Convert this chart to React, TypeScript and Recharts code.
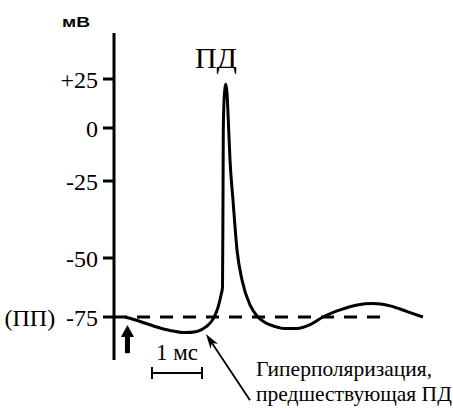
import { LineChart, Line, XAxis, YAxis, ReferenceLine, Customized } from 'recharts'

// time after stimulus, ms
const timeMs = [
  0, 0.31, 0.61, 0.92, 1.22, 1.47, 1.65, 1.8, 1.9, 1.96, 1.99,
  2.0, 2.006, 2.027, 2.055, 2.082, 2.108, 2.143, 2.204, 2.286, 2.388,
  2.551, 2.694, 2.857, 3.061, 3.27, 3.51, 3.78, 4.04, 4.39, 4.74,
  5.06, 5.41, 5.76, 6.08,
]
// membrane potential, mV
const potentialMv = [
  -75, -76.9, -79.0, -80.7, -81.6, -81.1, -79.2, -75.8, -70.8, -65.7, -62.3,
  -31.2, -0.9, 16.8, 22.4, 17.9, 4.1, -15.1, -31.2, -47.4, -59.3,
  -69.9, -74.6, -77.3, -79.0, -79.9, -79.9, -78.2, -75, -72.0, -69.9,
  -69.3, -70.3, -72.7, -75,
]
const yTicks = [-75, -50, -25, 0, 25]
const restingMv = -75

// the printed mV axis is not evenly spaced: share of the axis height at each value
const axisValues = [-93.2, -75, -50, -25, 0, 25, 48.5]
const axisShare = [0, 0.1315, 0.3119, 0.5474, 0.7095, 0.8593, 1]

const data = timeMs.map((t, i) => ({ t, v: potentialMv[i] }))

const SERIF = '"Liberation Serif", "Times New Roman", serif'
const SANS = '"Liberation Sans", Arial, sans-serif'

// piecewise linear scale with the d3 methods recharts needs
function unevenScale(): any {
  let dom = [axisValues[0], axisValues[axisValues.length - 1]]
  let rng = [0, 1]
  const last = axisValues.length - 1
  const share = (v: number) => {
    let i = 1
    while (i < last && v > axisValues[i]) i++
    const v0 = axisValues[i - 1], v1 = axisValues[i]
    return axisShare[i - 1] + ((v - v0) / (v1 - v0)) * (axisShare[i] - axisShare[i - 1])
  }
  const unshare = (f: number) => {
    let i = 1
    while (i < last && f > axisShare[i]) i++
    const f0 = axisShare[i - 1], f1 = axisShare[i]
    return axisValues[i - 1] + ((f - f0) / (f1 - f0)) * (axisValues[i] - axisValues[i - 1])
  }
  const s: any = (v: number) => rng[0] + share(v) * (rng[1] - rng[0])
  s.domain = (d?: number[]) => (d ? ((dom = d), s) : dom)
  s.range = (r?: number[]) => (r ? ((rng = r), s) : rng)
  s.copy = () => unevenScale().domain(dom).range(rng)
  s.ticks = () => yTicks
  s.invert = (px: number) => unshare((px - rng[0]) / (rng[1] - rng[0]))
  s.clamp = () => s
  s.nice = () => s
  return s
}

function formatTick(v: number) {
  if (v === 25) return '+25'
  if (v === restingMv) return '(ПП)\u2009 -75'
  return String(v)
}

function YTick(props: any) {
  const { x, y, payload } = props
  return (
    <text x={x} y={y} dy="0.355em" textAnchor="end" fontFamily={SERIF} fontSize={24} fill="#000">
      {formatTick(payload.value)}
    </text>
  )
}

// thick upward arrow marking the stimulus
function StimulusArrow(props: any) {
  const { x2, y1, y2 } = props
  const head = 12
  return (
    <g>
      <rect x={x2 - 2.5} y={y2 + head - 1} width={5} height={y1 - y2 - head + 1} fill="#000" />
      <polygon points={`${x2},${y2} ${x2 - 6.5},${y2 + head} ${x2 + 6.5},${y2 + head}`} fill="#000" />
    </g>
  )
}

// thin arrow with caption at its tail
function NoteArrow(props: any) {
  const { x1, y1, x2, y2 } = props
  const a = Math.atan2(y2 - y1, x2 - x1)
  const c = Math.cos(a), s = Math.sin(a)
  const len = 15, half = 4.5
  const bx = x2 - len * c, by = y2 - len * s
  const nx = x2 - len * 0.7 * c, ny = y2 - len * 0.7 * s
  return (
    <g>
      <line x1={x1} y1={y1} x2={nx} y2={ny} stroke="#000" strokeWidth={1.8} />
      <polygon
        points={`${x2},${y2} ${bx - s * half},${by + c * half} ${nx},${ny} ${bx + s * half},${by - c * half}`}
        fill="#000"
      />
      <text x={x1 + 6} y={y1 - 24} fontFamily={SERIF} fontSize={21.5} fill="#000">Гиперполяризация,</text>
      <text x={x1 + 6} y={y1 + 1} fontFamily={SERIF} fontSize={21.5} fill="#000">предшествующая ПД</text>
    </g>
  )
}

// 1 ms scale bar
function ScaleBar(props: any) {
  const { x1, y1, x2 } = props
  return (
    <g stroke="#000" strokeWidth={2}>
      <line x1={x1} y1={y1} x2={x2} y2={y1} />
      <line x1={x1} y1={y1 - 6} x2={x1} y2={y1 + 6} />
      <line x1={x2} y1={y1 - 6} x2={x2} y2={y1 + 6} />
      <text x={(x1 + x2) / 2} y={y1 - 13} textAnchor="middle" stroke="none" fill="#000" fontFamily={SERIF} fontSize={23}>1 мс</text>
    </g>
  )
}

function Titles() {
  return (
    <g>
      <text x={62} y={27} textLength={28} lengthAdjust="spacingAndGlyphs" fontFamily={SANS} fontWeight="bold" fontSize={15} fill="#000">мВ</text>
      <text x={216} y={68} textAnchor="middle" fontFamily={SERIF} fontSize={30} fill="#000">ПД</text>
    </g>
  )
}

export default function App() {
  return (
    <div style={{ position: 'absolute', left: 0, top: 0, background: '#fff' }}>
      <LineChart width={453} height={409} data={data} margin={{ top: 33, right: 10, bottom: 49, left: 0 }}>
        <XAxis dataKey="t" type="number" domain={[-0.2245, 6.49]} allowDataOverflow hide />
        <YAxis
          type="number"
          scale={unevenScale()}
          domain={[axisValues[0], axisValues[axisValues.length - 1]]}
          allowDataOverflow
          ticks={yTicks}
          interval={0}
          width={114}
          axisLine={{ stroke: '#000', strokeWidth: 3 }}
          tickLine={{ stroke: '#000', strokeWidth: 3 }}
          tickSize={11}
          tickMargin={5}
          tick={YTick}
        />
        <ReferenceLine
          segment={[{ x: -0.2245, y: restingMv }, { x: 5.27, y: restingMv }]}
          stroke="#000"
          strokeWidth={3}
          strokeDasharray="13 10"
          ifOverflow="visible"
        />
        <Line dataKey="v" type="monotone" stroke="#000" strokeWidth={3} dot={false} isAnimationActive={false} />
        <ReferenceLine segment={[{ x: 0.05, y: -90.3 }, { x: 0.05, y: -78.4 }]} ifOverflow="visible" shape={StimulusArrow} />
        <ReferenceLine segment={[{ x: 0.551, y: -98.7 }, { x: 1.571, y: -98.7 }]} ifOverflow="visible" shape={ScaleBar} />
        <ReferenceLine segment={[{ x: 2.551, y: -110.2 }, { x: 1.653, y: -82.2 }]} ifOverflow="visible" shape={NoteArrow} />
        <Customized component={<Titles />} />
      </LineChart>
    </div>
  )
}
